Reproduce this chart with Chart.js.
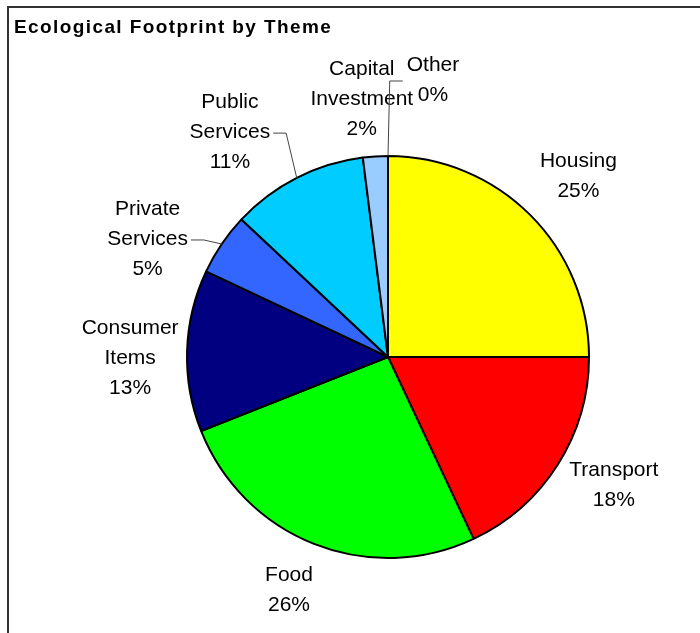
<!DOCTYPE html>
<html>
<head>
<meta charset="utf-8">
<script src="https://cdn.jsdelivr.net/npm/chart.js@4.4.1/dist/chart.umd.min.js"></script>
<style>
  html, body { margin: 0; padding: 0; background: #fff; }
  #wrap { position: relative; width: 700px; height: 633px; overflow: hidden; }
  #frame { position: absolute; left: 7px; top: 6px; width: 720px; height: 660px;
           border-left: 2px solid #333; border-top: 2px solid #333; box-sizing: border-box; }
  canvas { position: absolute; left: 0; top: 0; }
</style>
</head>
<body>
<div id="wrap">
  <div id="frame"></div>
  <canvas id="c" width="700" height="633"></canvas>
</div>
<script>
// Share of the ecological footprint per theme (percent)
const categories = ['Housing', 'Transport', 'Food', 'Consumer Items', 'Private Services',
                    'Public Services', 'Capital Investment', 'Other'];
const labelLines = [['Housing'], ['Transport'], ['Food'], ['Consumer', 'Items'],
                    ['Private', 'Services'], ['Public', 'Services'], ['Capital', 'Investment'], ['Other']];
const footprintShare = [25, 18, 26, 13, 5, 11, 2, 0];
const sliceColors = ['#FFFF00', '#FF0000', '#00FF00', '#000080', '#3366FF', '#00CCFF', '#99CCFF', '#CCFFFF'];
const chartTitle = 'Ecological Footprint by Theme';

// label placement: small shifts away from the default radial position, and leader sides
const labelNudge = [[8, 2], [8, -10], [-4, -7], [0, 9], [-27, 27], [-41, 5], [-10, 0], [45, -19]];
const leaderSide = [null, null, null, null, 'right', 'right', null, 'left'];

const LABEL_FONT = '21px "Liberation Sans", Arial, sans-serif';
const LINE_H = 30;

const labelPlugin = {
  id: 'pieLabels',
  afterDraw(chart) {
    const ctx = chart.ctx;
    const meta = chart.getDatasetMeta(0);
    const total = footprintShare.reduce((a, b) => a + b, 0);

    // title
    ctx.save();
    ctx.font = 'bold 19px "Liberation Sans", Arial, sans-serif';
    ctx.fillStyle = '#000';
    ctx.textBaseline = 'alphabetic';
    ctx.textAlign = 'left';
    if ('letterSpacing' in ctx) ctx.letterSpacing = '1.4px';
    ctx.fillText(chartTitle, 14, 33);
    ctx.restore();

    ctx.save();
    ctx.font = LABEL_FONT;
    ctx.fillStyle = '#000';
    ctx.textAlign = 'center';
    ctx.textBaseline = 'middle';
    meta.data.forEach((arc, i) => {
      const p = arc.getProps(['x', 'y', 'startAngle', 'endAngle', 'outerRadius'], true);
      const mid = (p.startAngle + p.endAngle) / 2;
      const R = p.outerRadius + 57;
      const cx = p.x + Math.cos(mid) * R + labelNudge[i][0];
      const cy = p.y + Math.sin(mid) * R + labelNudge[i][1];
      const pct = Math.round(footprintShare[i] / total * 100) + '%';
      const lines = labelLines[i].concat([pct]);
      const n = lines.length;
      lines.forEach((t, k) => {
        ctx.fillText(t, cx, cy + (k - (n - 1) / 2) * LINE_H);
      });

      if (leaderSide[i]) {
        const w = Math.max(...lines.map(t => ctx.measureText(t).width));
        const ex = p.x + Math.cos(mid) * p.outerRadius;
        const ey = p.y + Math.sin(mid) * p.outerRadius;
        let x0, x1;
        if (leaderSide[i] === 'right') { x0 = cx + w / 2 + 3; x1 = x0 + 13; }
        else { x0 = cx - w / 2 - 4; x1 = x0 - 13; }
        ctx.beginPath();
        ctx.strokeStyle = '#444';
        ctx.lineWidth = 1;
        ctx.moveTo(x0, cy + 1);
        ctx.lineTo(x1, cy + 1);
        ctx.lineTo(ex, ey);
        ctx.stroke();
      }
    });
    ctx.restore();
  }
};

new Chart(document.getElementById('c'), {
  type: 'pie',
  data: {
    labels: categories,
    datasets: [{
      data: footprintShare,
      backgroundColor: sliceColors,
      borderColor: '#000',
      borderWidth: 2
    }]
  },
  options: {
    responsive: false,
    devicePixelRatio: 1,
    animation: false,
    radius: 201,
    layout: { padding: { left: 76, top: 81, right: 0, bottom: 0 } },
    plugins: {
      legend: { display: false },
      tooltip: { enabled: false },
      title: { display: false }
    }
  },
  plugins: [labelPlugin]
});
</script>
</body>
</html>
